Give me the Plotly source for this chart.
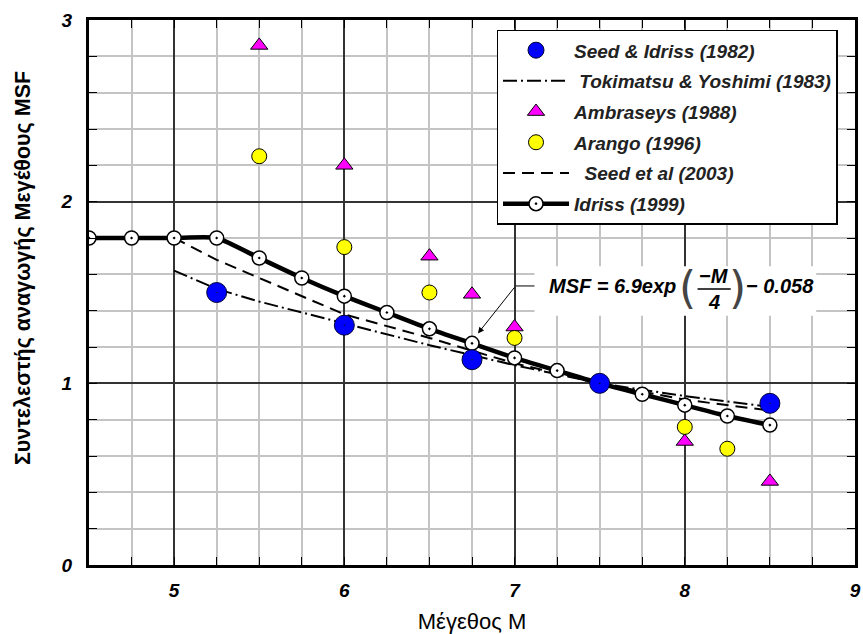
import plotly.graph_objects as go

# ---------------- data ----------------
idriss_M = [4.5, 4.75, 5.0, 5.25, 5.5, 5.75, 6.0, 6.25, 6.5, 6.75, 7.0, 7.25, 7.5, 7.75, 8.0, 8.25, 8.5]
idriss_MSF = [1.80, 1.80, 1.80, 1.80, 1.69, 1.58, 1.48, 1.39, 1.30, 1.22, 1.14, 1.07, 1.00, 0.94, 0.88, 0.82, 0.77]

seed_idriss_M = [5.25, 6.0, 6.75, 7.5, 8.5]
seed_idriss_MSF = [1.50, 1.32, 1.13, 1.00, 0.89]

tokimatsu_M = [5.0, 5.25, 5.5, 6.0, 6.5, 7.0, 7.5, 8.0, 8.5]
tokimatsu_MSF = [1.62, 1.52, 1.45, 1.33, 1.21, 1.10, 1.00, 0.93, 0.87]

ambraseys_M = [5.5, 6.0, 6.5, 6.75, 7.0, 8.0, 8.5]
ambraseys_MSF = [2.86, 2.20, 1.70, 1.49, 1.31, 0.68, 0.46]

arango_M = [5.5, 6.0, 6.5, 7.0, 8.0, 8.25]
arango_MSF = [2.25, 1.75, 1.50, 1.25, 0.76, 0.64]

seed2003_M = [5.0, 5.25, 5.5, 6.0, 6.5, 7.0, 7.5, 8.0, 8.5]
seed2003_MSF = [1.80, 1.68, 1.58, 1.38, 1.25, 1.11, 1.00, 0.91, 0.85]

x_range = [4.5, 9]
y_range = [0, 3]
x_minor_step = 0.25
y_minor_step = 0.2

FONT = "Liberation Sans, Arial, sans-serif"
MINOR_GRID = "#c4c4c4"

fig = go.Figure()

# lines first
fig.add_trace(go.Scatter(
    x=seed2003_M, y=seed2003_MSF, mode="lines", name="&nbsp;&nbsp;Seed et al (2003)",
    line=dict(color="black", width=2, dash="12px,7px"), legendrank=5, legendgroup="e"))
fig.add_trace(go.Scatter(
    x=tokimatsu_M, y=tokimatsu_MSF, mode="lines", name="&nbsp;Tokimatsu &amp; Yoshimi (1983)",
    line=dict(color="black", width=2, dash="14px,4px,2px,4px"), legendrank=2, legendgroup="b"))
fig.add_trace(go.Scatter(
    x=idriss_M, y=idriss_MSF, mode="lines+markers", name="Idriss (1999)",
    line=dict(color="black", width=4.5, shape="spline", smoothing=0.5),
    marker=dict(symbol="circle-dot", size=14, color="white", line=dict(color="black", width=1.5)),
    legendrank=6, legendgroup="f"))
# markers
fig.add_trace(go.Scatter(
    x=ambraseys_M, y=ambraseys_MSF, mode="markers", name="Ambraseys (1988)",
    marker=dict(symbol="triangle-up", size=15, color="#ff00ff", line=dict(color="black", width=1)),
    legendrank=3, legendgroup="c"))
fig.add_trace(go.Scatter(
    x=arango_M, y=arango_MSF, mode="markers", name="Arango (1996)",
    marker=dict(symbol="circle", size=15, color="#ffff00", line=dict(color="black", width=1)),
    legendrank=4, legendgroup="d"))
fig.add_trace(go.Scatter(
    x=seed_idriss_M, y=seed_idriss_MSF, mode="markers", name="Seed &amp; Idriss (1982)",
    marker=dict(symbol="circle-dot", size=20, color="#0000ff", line=dict(color="#000033", width=1)),
    legendrank=1, legendgroup="a"))

axis_common = dict(
    showline=True, linecolor="black", linewidth=3, mirror="ticks",
    ticks="inside", ticklen=8, tickwidth=1, tickcolor="black",
    showgrid=True, gridcolor="#333333", gridwidth=1.5,
    zeroline=False, tickmode="linear", dtick=1, ticklabeloverflow="allow",
    tickfont=dict(family=FONT, size=19, color="black", weight="bold", style="italic"),
)

fig.update_layout(
    xaxis=dict(
        range=x_range, tick0=5, ticklabelstandoff=6,
        minor=dict(dtick=x_minor_step, tick0=x_range[0], ticks="inside", ticklen=8,
                   tickcolor="black", tickwidth=1,
                   showgrid=True, gridcolor=MINOR_GRID, gridwidth=2),
        title=dict(text="Μέγεθος Μ", standoff=16,
                   font=dict(family=FONT, size=22, color="black")),
        **axis_common),
    yaxis=dict(range=y_range, tick0=0, ticklabelstandoff=10,
               minor=dict(dtick=y_minor_step, tick0=y_range[0], ticks="inside", ticklen=8,
                          tickcolor="black", tickwidth=1,
                          showgrid=True, gridcolor=MINOR_GRID, gridwidth=2),
               **axis_common),
)

# equation box and text (annotations / layout shapes)
fig.add_shape(type="rect", x0=7.117, x1=8.772, y0=1.372, y1=1.645, xref="x", yref="y",
              fillcolor="white", line=dict(width=0), layer="above")
fig.add_shape(type="line", x0=7.006, x1=7.117, y0=1.536, y1=1.536, xref="x", yref="y",
              line=dict(color="black", width=1))
fig.add_shape(type="line", x0=8.075, x1=8.27, y0=1.519, y1=1.519, xref="x", yref="y",
              line=dict(color="black", width=1.5))

eq_font = dict(family=FONT, size=20, color="black", weight="bold", style="italic")
fig.add_annotation(x=7.19, y=1.536, xref="x", yref="y", text="MSF = 6.9exp",
                   showarrow=False, xanchor="left", yanchor="middle", font=eq_font)
fig.add_annotation(x=8.17, y=1.59, xref="x", yref="y", text="−M",
                   showarrow=False, xanchor="center", yanchor="middle", font=eq_font)
fig.add_annotation(x=8.17, y=1.445, xref="x", yref="y", text="4",
                   showarrow=False, xanchor="center", yanchor="middle", font=eq_font)
paren_font = dict(family="DejaVu Sans, " + FONT, size=44, color="#444444", weight="normal")
fig.add_annotation(x=8.015, y=1.53, xref="x", yref="y", text="(",
                   showarrow=False, xanchor="center", yanchor="middle", font=paren_font)
fig.add_annotation(x=8.31, y=1.53, xref="x", yref="y", text=")",
                   showarrow=False, xanchor="center", yanchor="middle", font=paren_font)
fig.add_annotation(x=8.345, y=1.536, xref="x", yref="y", text="− 0.058",
                   showarrow=False, xanchor="left", yanchor="middle", font=eq_font)
# arrow to Idriss curve
fig.add_annotation(x=6.785, y=1.275, xref="x", yref="y", ax=7.006, ay=1.536,
                   axref="x", ayref="y", text="", showarrow=True,
                   arrowhead=2, arrowsize=1.2, arrowwidth=1, arrowcolor="black")

# y-axis title as annotation
fig.add_annotation(x=-0.086, y=0.545, xref="paper", yref="paper",
                   text="Συντελεστής αναγωγής Μεγέθους MSF", textangle=-90,
                   showarrow=False, xanchor="center", yanchor="middle",
                   font=dict(family=FONT, size=21.5, color="black", weight="bold"))

fig.update_layout(
    width=863, height=634,
    margin=dict(l=89, r=2, t=20, b=67),
    plot_bgcolor="white", paper_bgcolor="white",
    showlegend=True,
    legend=dict(
        x=0.532, y=0.982, xanchor="left", yanchor="top",
        bgcolor="white", bordercolor="black", borderwidth=1.5,
        font=dict(family=FONT, size=19, color="#222222", weight="bold", style="italic"),
        traceorder="grouped", tracegroupgap=3, itemwidth=66,
    ),
)

fig.write_html("out.html")
